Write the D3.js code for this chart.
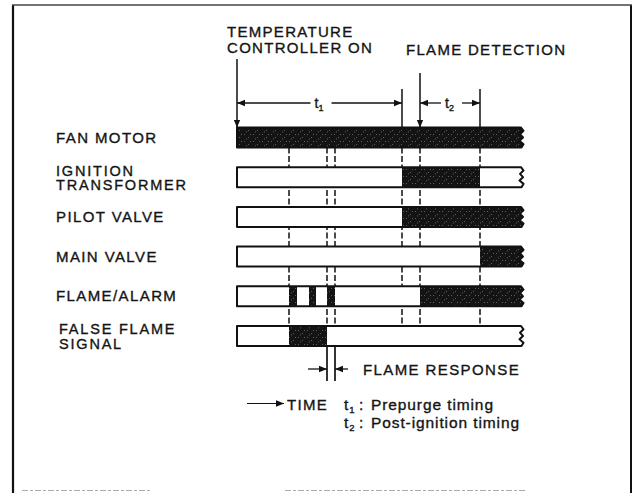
<!DOCTYPE html>
<html>
<head>
<meta charset="utf-8">
<script src="https://cdn.jsdelivr.net/npm/d3@7"></script>
<style>
  body { margin: 0; background: #fff; }
  svg { display: block; }
  text { font-family: "Liberation Sans", Arial, sans-serif; fill: #141414; stroke: #141414; stroke-width: 0.35px; }
</style>
</head>
<body>
<div id="chart"></div>
<script>
// signals, top to bottom
const signals = ["FAN MOTOR", "IGNITION TRANSFORMER", "PILOT VALVE", "MAIN VALVE", "FLAME/ALARM", "FALSE FLAME SIGNAL"];
const labelLines = [["FAN MOTOR"], ["IGNITION", "TRANSFORMER"], ["PILOT VALVE"], ["MAIN VALVE"], ["FLAME/ALARM"], ["FALSE FLAME", "SIGNAL"]];

// time axis (arbitrary units)
const timeEnd = 284;
const eventTimes = [52, 90, 98, 165, 183, 243];

// ON intervals [start, end] for each signal
const fanOn = [[0, 284]];
const ignitionOn = [[165, 243]];
const pilotOn = [[165, 284]];
const mainOn = [[243, 284]];
const flameOn = [[52, 60], [72, 79], [90, 98], [183, 284]];
const falseFlameOn = [[52, 90]];
const onIntervals = [fanOn, ignitionOn, pilotOn, mainOn, flameOn, falseFlameOn];

const controllerOnTime = 0;
const flameDetectTime = 183;
const t1 = [0, 165];
const t2 = [183, 243];
const flameResponse = [90, 98];

const width = 639, height = 493;

const svg = d3.select("#chart").append("svg")
    .attr("width", width)
    .attr("height", height);

const defs = svg.append("defs");

defs.append("marker")
    .attr("id", "head")
    .attr("viewBox", "0 0 10 10")
    .attr("refX", 10).attr("refY", 5)
    .attr("markerWidth", 8).attr("markerHeight", 8)
    .attr("markerUnits", "userSpaceOnUse")
    .attr("orient", "auto-start-reverse")
  .append("path")
    .attr("d", "M0,0.8L10,5L0,9.2Z")
    .attr("fill", "#111");

// dark halftone fill
const pat = defs.append("pattern")
    .attr("id", "dark")
    .attr("patternUnits", "userSpaceOnUse")
    .attr("width", 9).attr("height", 7);
pat.append("rect").attr("width", 9).attr("height", 7).attr("fill", "#141414");
[[1, 1], [5, 4], [7, 1], [3, 5.5]].forEach(([px, py]) =>
  pat.append("rect").attr("x", px).attr("y", py).attr("width", 0.8).attr("height", 0.8).attr("fill", "#888"));

const x = d3.scaleLinear().domain([0, timeEnd]).range([237, 521]);
const y = d3.scaleBand()
    .domain(signals)
    .range([127.5, 346])
    .paddingInner(0.496)
    .paddingOuter(0);
const bh = y.bandwidth();

// frame
const frame = svg.append("g").attr("stroke", "#111").attr("fill", "none");
frame.append("line").attr("x1", 13).attr("x2", 13).attr("y1", 5).attr("y2", height).attr("stroke-width", 2.2);
frame.append("line").attr("x1", 631).attr("x2", 631).attr("y1", 5).attr("y2", height).attr("stroke-width", 2);
frame.append("line").attr("x1", 12).attr("x2", 632).attr("y1", 5).attr("y2", 5).attr("stroke-width", 1.4).attr("stroke", "#444");
svg.append("g").attr("stroke", "#aaa").attr("stroke-width", 1.2).attr("stroke-dasharray", "6,2,3,2")
  .selectAll("line").data([[22, 150], [285, 525]]).join("line")
    .attr("x1", d => d[0]).attr("x2", d => d[1]).attr("y1", 490.5).attr("y2", 490.5);

// dashed event lines between bars
svg.append("g")
    .attr("stroke", "#111").attr("stroke-width", 1.5).attr("stroke-dasharray", "6,2.5")
  .selectAll("line").data(eventTimes).join("line")
    .attr("x1", d => x(d)).attr("x2", d => x(d))
    .attr("y1", y(signals[0]) + bh)
    .attr("y2", y(signals[signals.length - 1]));

// ragged right edge
const jag = [0, 2.5, -1, 2, -1.5, 2.5, 0.5];
function barPath(top) {
  const x0 = x(0), x1 = x(timeEnd);
  let p = `M${x0},${top}H${x1}`;
  jag.forEach((j, i) => { p += `L${x1 + j},${top + (bh * i) / (jag.length - 1)}`; });
  p += `H${x0}Z`;
  return p;
}

const rows = svg.append("g").selectAll("g").data(signals).join("g");

rows.append("clipPath")
    .attr("id", (d, i) => "clip" + i)
  .append("path")
    .attr("d", d => barPath(y(d)));

rows.append("path")
    .attr("d", d => barPath(y(d)))
    .attr("fill", "#fff");

rows.append("g")
    .attr("clip-path", (d, i) => `url(#clip${i})`)
  .selectAll("rect")
  .data((d, i) => onIntervals[i].map(iv => ({ sig: d, iv })))
  .join("rect")
    .attr("x", d => x(d.iv[0]))
    .attr("width", d => x(d.iv[1]) - x(d.iv[0]) + (d.iv[1] === timeEnd ? 6 : 0))
    .attr("y", d => y(d.sig))
    .attr("height", bh)
    .attr("fill", "url(#dark)");

rows.append("path")
    .attr("d", d => barPath(y(d)))
    .attr("fill", "none")
    .attr("stroke", "#111")
    .attr("stroke-width", 2)
    .attr("stroke-linejoin", "round");

// row labels, one text per line
rows.each(function (sig, i) {
  const lines = labelLines[i];
  const c = y(sig) + bh / 2;
  d3.select(this).selectAll("text.lbl")
    .data(lines)
    .join("text")
      .attr("class", "lbl")
      .attr("font-size", lines.length === 1 ? 15 : 14.5)
      .attr("letter-spacing", lines.length === 1 ? 1.4 : 1.8)
      .attr("x", sig === "FALSE FLAME SIGNAL" ? 59 : 56)
      .attr("y", (t, k) => lines.length === 1 ? c + 5 : c - 1.5 + k * 14.5)
      .text(t => t);
});

// top annotations
const ann = svg.append("g").attr("stroke", "#111").attr("stroke-width", 1.5);
ann.append("line")
    .attr("x1", x(controllerOnTime)).attr("x2", x(controllerOnTime))
    .attr("y1", 59).attr("y2", y(signals[0]))
    .attr("marker-end", "url(#head)");
ann.append("line")
    .attr("x1", x(flameDetectTime)).attr("x2", x(flameDetectTime))
    .attr("y1", 73).attr("y2", y(signals[0]))
    .attr("marker-end", "url(#head)");
ann.selectAll("line.tick").data([t1[1], t2[1]]).join("line")
    .attr("class", "tick")
    .attr("x1", d => x(d)).attr("x2", d => x(d))
    .attr("y1", 89).attr("y2", y(signals[0]));

const dimY = 103;
const dims = [{ span: t1, sub: "1" }, { span: t2, sub: "2" }];
dims.forEach(dm => {
  const xa = x(dm.span[0]), xb = x(dm.span[1]), xm = (xa + xb) / 2;
  ann.append("line").attr("x1", xm - 9).attr("x2", xa).attr("y1", dimY).attr("y2", dimY)
      .attr("stroke-width", 1.3).attr("marker-end", "url(#head)");
  ann.append("line").attr("x1", xm + 12).attr("x2", xb).attr("y1", dimY).attr("y2", dimY)
      .attr("stroke-width", 1.3).attr("marker-end", "url(#head)");
  const t = svg.append("text").attr("x", xm - 5).attr("y", dimY + 5).attr("font-size", 14);
  t.append("tspan").text("t");
  t.append("tspan").attr("font-size", 9).attr("dy", 2.5).text(dm.sub);
});

const topText = svg.append("g").attr("font-size", 15).attr("letter-spacing", 1.3);
topText.append("text").attr("x", 227).attr("y", 36.5).text("TEMPERATURE");
topText.append("text").attr("x", 227).attr("y", 52.5).text("CONTROLLER ON");
topText.append("text").attr("x", 406).attr("y", 54.5).text("FLAME DETECTION");

// flame response
const fr = svg.append("g").attr("stroke", "#111").attr("stroke-width", 1.7);
const frTop = y(signals[signals.length - 1]) + bh;
fr.selectAll("line.v").data(flameResponse).join("line")
    .attr("class", "v")
    .attr("x1", d => x(d)).attr("x2", d => x(d))
    .attr("y1", frTop).attr("y2", 381);
fr.append("line").attr("x1", x(flameResponse[0]) - 19).attr("x2", x(flameResponse[0]))
    .attr("y1", 369).attr("y2", 369).attr("stroke-width", 1.3).attr("marker-end", "url(#head)");
fr.append("line").attr("x1", x(flameResponse[1]) + 13).attr("x2", x(flameResponse[1]))
    .attr("y1", 369).attr("y2", 369).attr("stroke-width", 1.3).attr("marker-end", "url(#head)");
svg.append("text").attr("x", 363).attr("y", 374.5)
    .attr("font-size", 15).attr("letter-spacing", 1.4)
    .text("FLAME RESPONSE");

// legend
svg.append("line").attr("x1", 247).attr("x2", 284).attr("y1", 403.5).attr("y2", 403.5)
    .attr("stroke", "#111").attr("stroke-width", 1.2).attr("marker-end", "url(#head)");
svg.append("text").attr("x", 287).attr("y", 409.5).attr("font-size", 15).attr("letter-spacing", 1.3).text("TIME");

const legendItems = [{ sub: "1", label: "Prepurge timing", yy: 410 }, { sub: "2", label: "Post-ignition timing", yy: 428 }];
legendItems.forEach(li => {
  const t = svg.append("text").attr("x", 344).attr("y", li.yy).attr("font-size", 15.5).attr("letter-spacing", 0.9);
  t.append("tspan").text("t");
  t.append("tspan").attr("font-size", 9.5).attr("dy", 2.5).text(li.sub);
  t.append("tspan").attr("dy", -2.5).attr("x", 359).text(":");
  t.append("tspan").attr("x", 371).text(li.label);
});
</script>
</body>
</html>
